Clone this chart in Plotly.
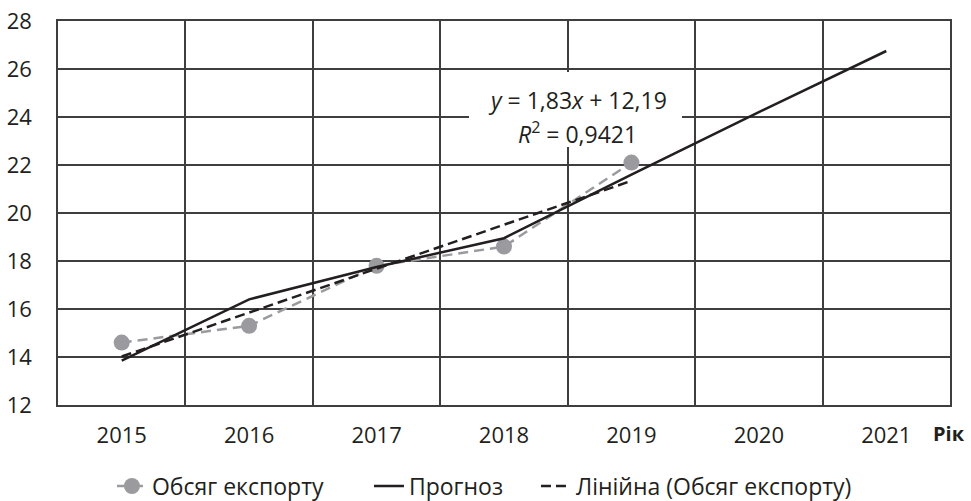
import plotly.graph_objects as go

years = [2015, 2016, 2017, 2018, 2019, 2020, 2021]
export_years = [2015, 2016, 2017, 2018, 2019]
export_values = [14.6, 15.3, 17.8, 18.6, 22.1]
forecast_values = [13.85, 16.4, 17.75, 18.95, 21.6, 24.2, 26.75]
trend_values = [14.02, 15.85, 17.68, 19.51, 21.34]
y_ticks = [12, 14, 16, 18, 20, 22, 24, 26, 28]
grid_x = [2014.5, 2015.5, 2016.5, 2017.5, 2018.5, 2019.5, 2020.5, 2021.5]

FONT = "Open Sans"
BLACK = "#231f20"
GRAY = "#9b9b9f"
GRID = "#3e3e3e"

fig = go.Figure()
fig.add_trace(go.Scatter(
    x=export_years, y=export_values, name="Обсяг експорту",
    mode="lines+markers", legendwidth=212,
    line=dict(color=GRAY, width=2.5, dash="10px,6px"),
    marker=dict(color=GRAY, size=16),
))
fig.add_trace(go.Scatter(
    x=years, y=forecast_values, name="Прогноз", legendwidth=122,
    mode="lines", line=dict(color=BLACK, width=2.5),
))
fig.add_trace(go.Scatter(
    x=export_years, y=trend_values, name="Лінійна (Обсяг експорту)", legendwidth=300,
    mode="lines", line=dict(color=BLACK, width=2.5, dash="10px,5px"),
))

fig.update_layout(
    width=971, height=501,
    margin=dict(l=58, r=21, t=21, b=96, autoexpand=False),
    paper_bgcolor="white", plot_bgcolor="white",
    font=dict(family=FONT, size=22, color=BLACK),
    showlegend=True,
    legend=dict(orientation="h", x=0.0605, xanchor="left", y=-0.211, yanchor="middle",
                font=dict(size=23, color=BLACK), traceorder="normal"),
    xaxis=dict(
        range=[2014.5, 2021.5], tickvals=years, ticktext=[str(y) for y in years],
        showgrid=False, zeroline=False, ticks="", automargin=False,
        showline=True, mirror=True, linecolor=GRID, linewidth=1.5,
        ticklabelstandoff=10, ticklabeloverflow="allow",
        minor=dict(tickvals=grid_x, showgrid=True, gridcolor=GRID, gridwidth=1.5, ticks=""),
    ),
    yaxis=dict(
        range=[12, 28], tickvals=y_ticks, showgrid=True, gridcolor=GRID, gridwidth=1.5,
        zeroline=False, ticks="", showline=True, mirror=True, linecolor=GRID, linewidth=1.5,
        ticklabelstandoff=20, automargin=False, ticklabeloverflow="allow",
    ),
    annotations=[
        # white background box behind the trendline equation
        dict(xref="paper", yref="paper", x=0.580, y=0.7695, text=" ", showarrow=False,
             width=209, height=71, bgcolor="white", borderpad=2, borderwidth=0,
             xanchor="center", yanchor="middle"),
        dict(xref="paper", yref="paper", x=0.582, y=0.794,
             text="<i>y</i> = 1,83<i>x</i> + 12,19", showarrow=False,
             xanchor="center", yanchor="middle", font=dict(size=23, color=BLACK)),
        dict(xref="paper", yref="paper", x=0.582, y=0.708,
             text="<i>R</i><sup>2</sup> = 0,9421", showarrow=False,
             xanchor="center", yanchor="middle", font=dict(size=23, color=BLACK)),
        dict(xref="paper", yref="paper", x=1.0195, y=-0.0755, text="<b>Рік</b>",
             showarrow=False, xanchor="right", yanchor="middle", font=dict(size=20, color=BLACK)),
    ],
)

# remove the default 8px body margin so the figure fills the window exactly
fig.write_html("out.html", config={"displayModeBar": False},
               post_script="document.body.style.margin='0';")
